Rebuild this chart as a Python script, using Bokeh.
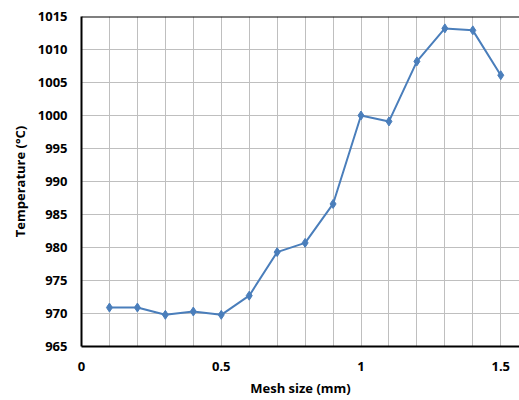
from bokeh.plotting import figure
from bokeh.models import Range1d, Span, FixedTicker
from bokeh.embed import file_html
from bokeh.resources import INLINE

# Peak temperature versus mesh size
mesh_size = [0.1, 0.2, 0.3, 0.4, 0.5, 0.6, 0.7, 0.8, 0.9, 1.0, 1.1, 1.2, 1.3, 1.4, 1.5]
temperature = [970.9, 970.9, 969.8, 970.3, 969.8, 972.7, 979.3, 980.7, 986.6,
               1000.0, 999.1, 1008.2, 1013.2, 1012.9, 1006.1]

x_ticks = [0, 0.5, 1, 1.5]
x_grid = [0.1 * i for i in range(0, 16)]
y_ticks = list(range(965, 1016, 5))

FONT = "Open Sans"
BLUE = "#4A7EBB"

p = figure(width=519, height=400, output_backend="svg", toolbar_location=None,
           x_range=Range1d(0, 1.567), y_range=Range1d(965, 1015),
           min_border_left=81, min_border_right=0, min_border_top=16,
           min_border_bottom=54)
p.outline_line_color = None
p.background_fill_color = "white"
p.border_fill_color = "white"

p.xaxis.ticker = FixedTicker(ticks=x_ticks)
p.xgrid.ticker = FixedTicker(ticks=x_grid)
p.yaxis.ticker = FixedTicker(ticks=y_ticks)
p.ygrid.ticker = FixedTicker(ticks=y_ticks)

for g in (p.xgrid, p.ygrid):
    g.grid_line_color = "#BFBFBF"
    g.grid_line_width = 1

for ax in (p.xaxis, p.yaxis):
    ax.axis_line_color = "black"
    ax.axis_line_width = 2
    ax.major_tick_line_color = None
    ax.minor_tick_line_color = None
    ax.major_tick_out = 0
    ax.major_tick_in = 0
    ax.major_label_text_font = FONT
    ax.major_label_text_font_style = "bold"
    ax.major_label_text_font_size = "13px"
    ax.major_label_text_color = "black"
    ax.axis_label_text_font = FONT
    ax.axis_label_text_font_style = "bold"
    ax.axis_label_text_font_size = "13px"
    ax.axis_label_text_color = "black"

p.xaxis.axis_label = "Mesh size (mm)"
p.yaxis.axis_label = "Temperature (°C)"
p.xaxis.major_label_standoff = 15
p.yaxis.major_label_standoff = 14
p.xaxis.axis_label_standoff = 5
p.yaxis.axis_label_standoff = 6

# top border of the plot area
p.add_layout(Span(location=1015, dimension="width", line_color="black", line_width=2))

p.line(mesh_size, temperature, line_color=BLUE, line_width=2)
p.scatter(mesh_size, temperature, marker="diamond", size=9,
          fill_color=BLUE, line_color=BLUE)

open("out.html", "w").write(file_html(p, INLINE))
